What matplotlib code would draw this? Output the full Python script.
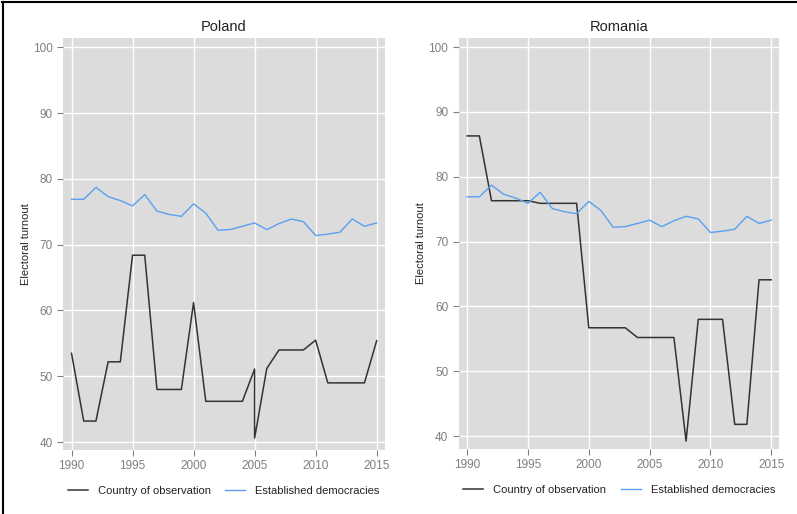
import numpy as np
import matplotlib
matplotlib.use("Agg")
import matplotlib.pyplot as plt
from matplotlib.lines import Line2D

plt.rcParams["font.family"] = ["Liberation Sans", "DejaVu Sans"]

# established democracies average (same on both panels)
years = list(range(1990, 2016))
established = [76.9, 76.9, 78.7, 77.3, 76.7, 75.9, 77.6, 75.1, 74.6, 74.3,
               76.2, 74.8, 72.2, 72.3, 72.8, 73.3, 72.3, 73.2, 73.9, 73.5,
               71.4, 71.6, 71.9, 73.9, 72.8, 73.3]

# Poland: two elections in 2005
poland_years = [1990, 1991, 1992, 1993, 1994, 1995, 1996, 1997, 1998, 1999,
                2000, 2001, 2002, 2003, 2004, 2005, 2005, 2006, 2007, 2008,
                2009, 2010, 2011, 2012, 2013, 2014, 2015]
poland = [53.5, 43.2, 43.2, 52.2, 52.2, 68.4, 68.4, 48.0, 48.0, 48.0,
          61.2, 46.2, 46.2, 46.2, 46.2, 51.1, 40.6, 51.2, 54.0, 54.0,
          54.0, 55.5, 49.0, 49.0, 49.0, 49.0, 55.4]

romania_years = years
romania = [86.3, 86.3, 76.3, 76.3, 76.3, 76.3, 75.9, 75.9, 75.9, 75.9,
           56.7, 56.7, 56.7, 56.7, 55.2, 55.2, 55.2, 55.2, 39.2, 58.0,
           58.0, 58.0, 41.8, 41.8, 64.1, 64.1]

panels = [("Poland", poland_years, poland, (38.8, 101.4), -0.099),
          ("Romania", romania_years, romania, (38.0, 101.4), -0.103)]

fig = plt.figure(figsize=(7.97, 5.14), dpi=100)
boxes = [[0.079, 0.1245, 0.404, 0.8015], [0.5755, 0.1265, 0.4025, 0.7995]]

for box, (name, yrs, vals, ylim, lx) in zip(boxes, panels):
    ax = fig.add_axes(box)
    ax.set_facecolor("#dcdcdc")
    ax.grid(True, color="white", linewidth=1.0)
    ax.set_axisbelow(True)
    for s in ax.spines.values():
        s.set_visible(False)
    ax.plot(yrs, vals, color="#333333", linewidth=1.1, label="Country of observation")
    ax.plot(years, established, color="#5aa0f0", linewidth=1.0, label="Established democracies")
    ax.set_xlim(1989.3, 2015.68)
    ax.set_ylim(*ylim)
    ax.set_xticks([1990, 1995, 2000, 2005, 2010, 2015])
    ax.set_yticks([40, 50, 60, 70, 80, 90, 100])
    ax.tick_params(colors="#808080", labelsize=8.5, length=4, width=0.8,
                   labelcolor="#7f7f7f")
    ax.set_title(name, fontsize=10.5, color="#222222", pad=5)
    ax.set_ylabel("Electoral turnout", fontsize=8, color="#222222")
    ax.yaxis.set_label_coords(lx, 0.5)
    ax.legend(loc="center", bbox_to_anchor=(0.5, -0.1), ncol=2,
              frameon=False, fontsize=8, handlelength=1.8, columnspacing=1.3,
              handletextpad=0.9, labelcolor="#222222")

# partial frame (top and left) of the original screenshot
fig.add_artist(Line2D([0.003, 1], [0.997, 0.997], color="black", linewidth=1.5,
                      transform=fig.transFigure))
fig.add_artist(Line2D([0.004, 0.004], [0, 0.997], color="black", linewidth=1.5,
                      transform=fig.transFigure))

fig.savefig("out.png", dpi=100)
